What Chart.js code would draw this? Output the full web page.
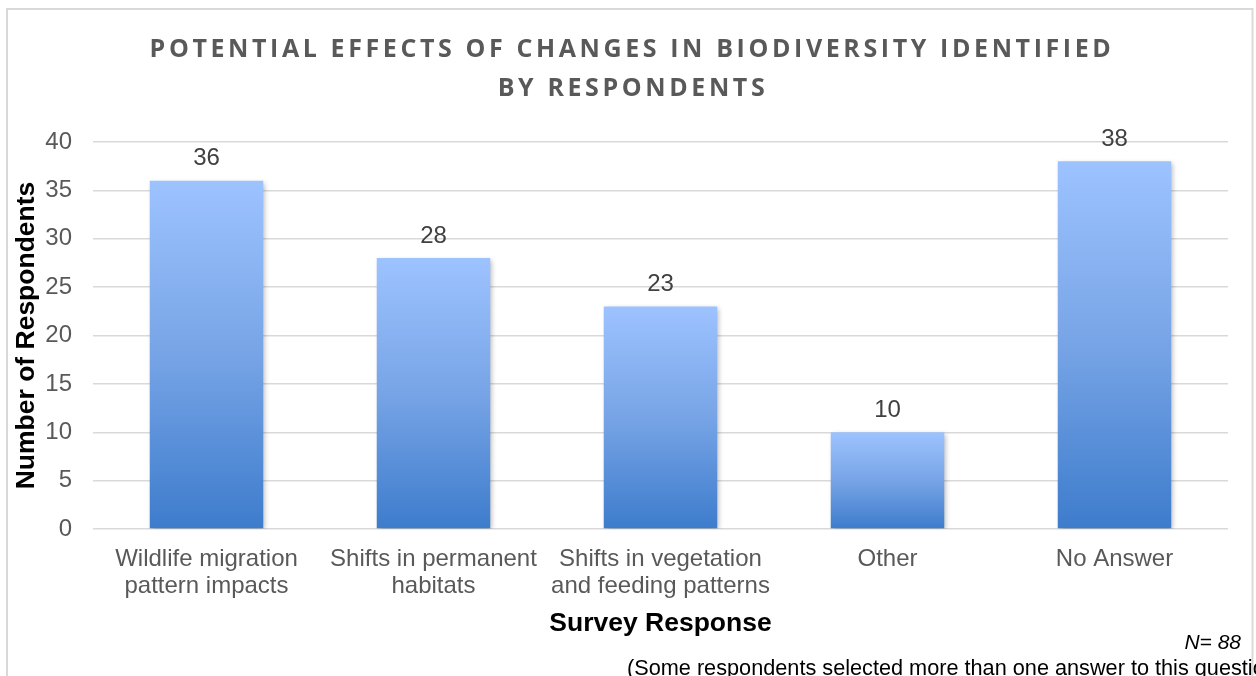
<!DOCTYPE html>
<html>
<head>
<meta charset="utf-8">
<script src="https://cdn.jsdelivr.net/npm/chart.js@4.4.0/dist/chart.umd.min.js"></script>
<style>
html,body{margin:0;padding:0;background:#fff;overflow:hidden}
#wrap{width:1256px;height:676px;position:relative}
</style>
</head>
<body>
<div id="wrap"><canvas id="c" width="1256" height="676"></canvas></div>
<script>
// ---- data ----
const categories = [
  ["Wildlife migration", "pattern impacts"],
  ["Shifts in permanent", "habitats"],
  ["Shifts in vegetation", "and feeding patterns"],
  "Other",
  "No Answer"
];
const respondents = [36, 28, 23, 10, 38];
const yMin = 0;
const yMax = 40;
const yStep = 5;
const titleLines = ["POTENTIAL EFFECTS OF CHANGES IN BIODIVERSITY IDENTIFIED", "BY RESPONDENTS"];
const xTitle = "Survey Response";
const yTitle = "Number of Respondents";
const sampleNote = "N= 88";
const footNote = "(Some respondents selected more than one answer to this question)";

// ---- plugins ----
const frameAndText = {
  id: 'frameAndText',
  beforeDraw(chart) {
    const ctx = chart.ctx;
    ctx.save();
    ctx.fillStyle = '#ffffff';
    ctx.fillRect(0, 0, chart.width, chart.height);
    ctx.strokeStyle = '#d9d9d9';
    ctx.lineWidth = 2;
    ctx.strokeRect(7, 9, 1245.5, 700);
    ctx.restore();
  },
  afterDraw(chart) {
    const ctx = chart.ctx;
    ctx.save();
    // title
    ctx.fillStyle = '#595959';
    ctx.font = 'bold 25px "Open Sans"';
    ctx.textAlign = 'center';
    ctx.textBaseline = 'middle';
    try { ctx.letterSpacing = '3.6px'; } catch (e) {}
    ctx.fillText(titleLines[0], 632, 50);
    ctx.fillText(titleLines[1], 633, 89);
    try { ctx.letterSpacing = '0px'; } catch (e) {}
    // notes
    ctx.fillStyle = '#000000';
    ctx.font = 'italic 21px "Liberation Sans", Arial, sans-serif';
    ctx.textAlign = 'right';
    ctx.fillText(sampleNote, 1241, 643);
    ctx.font = '21.7px "Liberation Sans", Arial, sans-serif';
    ctx.textAlign = 'left';
    ctx.fillText(footNote, 627, 669);
    ctx.restore();
  }
};

const barShadow = {
  id: 'barShadow',
  beforeDatasetsDraw(chart) {
    const ctx = chart.ctx;
    ctx.save();
    ctx.shadowColor = 'rgba(0,0,0,0.28)';
    ctx.shadowBlur = 5;
    ctx.shadowOffsetX = 2;
    ctx.shadowOffsetY = 2;
  },
  afterDatasetsDraw(chart) {
    chart.ctx.restore();
    const ctx = chart.ctx;
    const meta = chart.getDatasetMeta(0);
    ctx.save();
    ctx.fillStyle = '#404040';
    ctx.font = '24px "Liberation Sans", Arial, sans-serif';
    ctx.textAlign = 'center';
    ctx.textBaseline = 'middle';
    meta.data.forEach((bar, i) => {
      ctx.fillText(String(respondents[i]), bar.x, bar.y - 22);
    });
    ctx.restore();
  }
};

function barGradient(context) {
  const chart = context.chart;
  if (!chart.chartArea || context.type !== 'data') return '#6d9de6';
  const ys = chart.scales.y;
  const top = ys.getPixelForValue(context.parsed.y);
  const base = ys.getPixelForValue(0);
  const g = chart.ctx.createLinearGradient(0, top, 0, base);
  g.addColorStop(0, '#9dc3ff');
  g.addColorStop(0.5, '#77a4e6');
  g.addColorStop(1, '#3d7ccc');
  return g;
}

new Chart(document.getElementById('c'), {
  type: 'bar',
  data: {
    labels: categories,
    datasets: [{
      data: respondents,
      backgroundColor: barGradient,
      borderWidth: 0,
      categoryPercentage: 1.0,
      barPercentage: 0.5
    }]
  },
  options: {
    responsive: false,
    animation: false,
    devicePixelRatio: 1,
    layout: { padding: { left: 0, right: 28, top: 142, bottom: 0 } },
    plugins: {
      legend: { display: false },
      title: { display: false },
      tooltip: { enabled: false }
    },
    scales: {
      x: {
        grid: { display: false },
        border: { display: false },
        ticks: {
          color: '#595959',
          font: { family: '"Liberation Sans", Arial, sans-serif', size: 24, lineHeight: '27px' },
          padding: 9,
          maxRotation: 0,
          autoSkip: false
        },
        title: {
          display: true,
          text: xTitle,
          color: '#000000',
          font: { family: '"Liberation Sans", Arial, sans-serif', size: 26.5, weight: 'bold' },
          padding: { top: 0, bottom: 36 }
        },
        afterFit(scale) { scale.height = 147; }
      },
      y: {
        min: yMin,
        max: yMax,
        ticks: {
          stepSize: yStep,
          color: '#595959',
          font: { family: '"Liberation Sans", Arial, sans-serif', size: 24 },
          padding: 21
        },
        grid: { color: '#d9d9d9', lineWidth: 1.5, drawTicks: false },
        border: { display: false },
        title: {
          display: true,
          text: yTitle,
          color: '#000000',
          font: { family: '"Liberation Sans", Arial, sans-serif', size: 26.5, weight: 'bold' },
          padding: { top: 11, bottom: 0 }
        },
        afterFit(scale) { scale.width = 93; }
      }
    }
  },
  plugins: [frameAndText, barShadow]
});
</script>
</body>
</html>
